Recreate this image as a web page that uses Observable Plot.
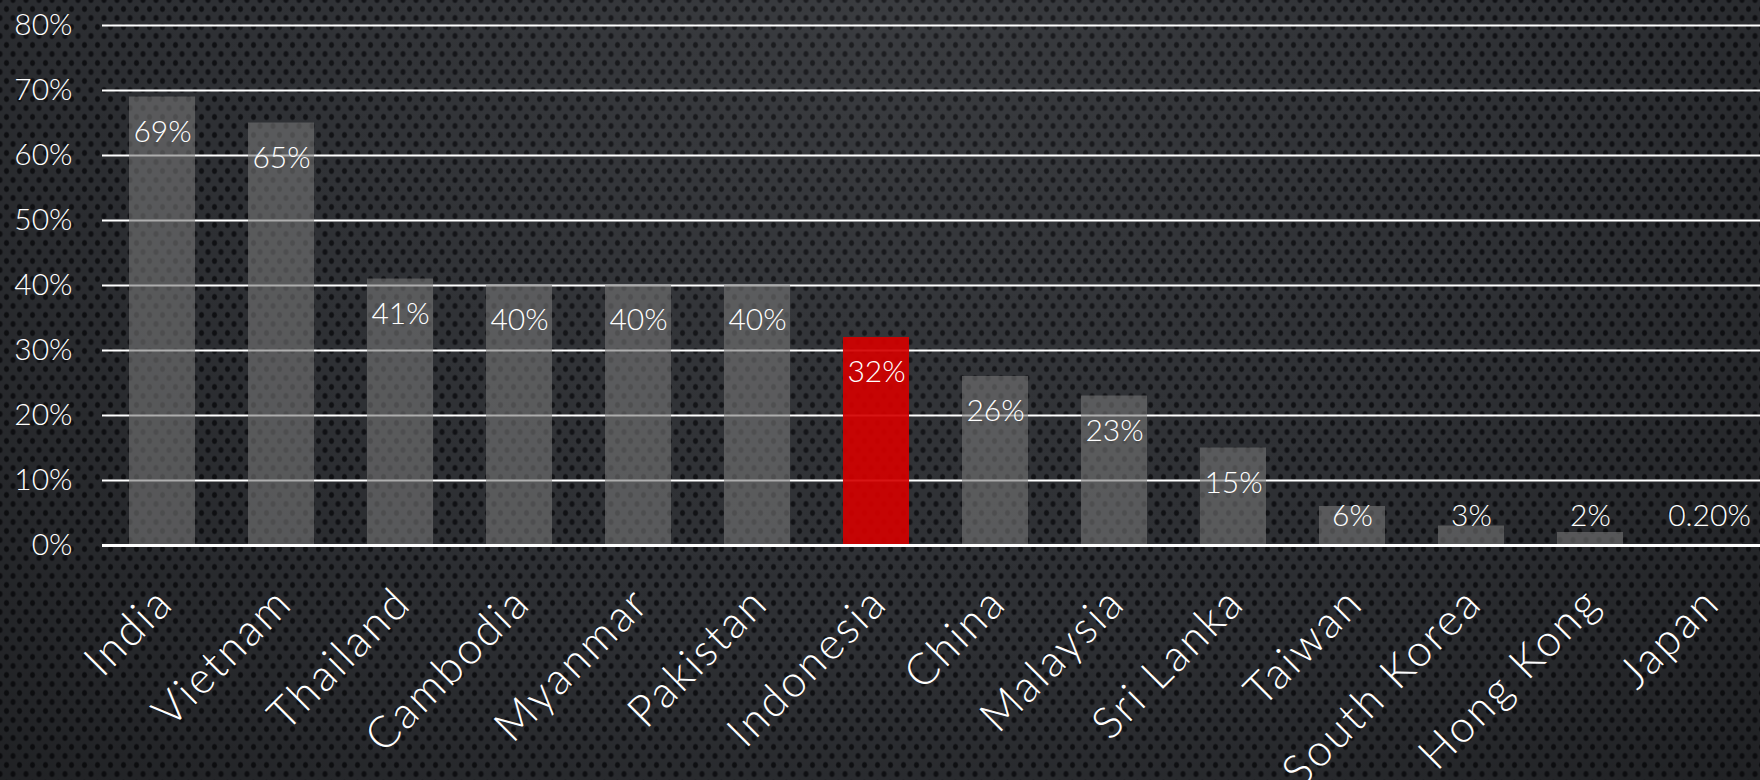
<!DOCTYPE html>
<html>
<head>
<meta charset="utf-8">
<script src="https://cdn.jsdelivr.net/npm/d3@7"></script>
<script src="https://cdn.jsdelivr.net/npm/@observablehq/plot@0.6"></script>
<style>
  html, body { margin: 0; padding: 0; width: 1760px; height: 780px; overflow: hidden; }
  body {
    background-color: #2e3034;
    background-image:
      radial-gradient(ellipse at 50% 0%, rgba(255,255,255,0.06) 0%, rgba(0,0,0,0) 55%, rgba(0,0,0,0.3) 100%),
      radial-gradient(ellipse 3.2px 3.8px at center, rgba(12,13,16,0.9) 0 55%, rgba(12,13,16,0) 100%),
      radial-gradient(ellipse 3.2px 3.8px at center, rgba(12,13,16,0.9) 0 55%, rgba(12,13,16,0) 100%);
    background-size: 100% 100%, 13px 18px, 13px 18px;
    background-position: 0 0, 0 0, 6.5px 9px;
    font-family: Lato, "DejaVu Sans", sans-serif;
  }
  #chart svg { display: block; }
  #chart svg g[aria-label="x-axis tick label"] text { letter-spacing: 2.5px; }
</style>
</head>
<body>
<div id="chart"></div>
<script>
const countries = ["India","Vietnam","Thailand","Cambodia","Myanmar","Pakistan","Indonesia","China","Malaysia","Sri Lanka","Taiwan","South Korea","Hong Kong","Japan"];
const values = [0.69,0.65,0.41,0.40,0.40,0.40,0.32,0.26,0.23,0.15,0.06,0.03,0.02,0.002];
const valueLabels = ["69%","65%","41%","40%","40%","40%","32%","26%","23%","15%","6%","3%","2%","0.20%"];
const highlight = "Indonesia";
const yTicks = [0,0.1,0.2,0.3,0.4,0.5,0.6,0.7,0.8];

const data = countries.map((c, i) => ({country: c, value: values[i], label: valueLabels[i]}));

const chart = Plot.plot({
  width: 1760,
  height: 780,
  marginLeft: 102,
  marginRight: 0,
  marginTop: 25,
  marginBottom: 235,
  style: {background: "transparent", color: "white", fontFamily: "Lato, 'DejaVu Sans', sans-serif"},
  x: {domain: countries, range: [102, 1769], paddingInner: 0.445, paddingOuter: 0.227, round: false},
  y: {domain: [0, 0.8], range: [545, 25]},
  marks: [
    Plot.ruleY(yTicks.filter(d => d > 0), {stroke: "white", strokeWidth: 2}),
    Plot.barY(data, {
      x: "country", y: "value",
      fill: d => d.country === highlight ? "#d40000" : "#777777",
      fillOpacity: d => d.country === highlight ? 0.92 : 0.6
    }),
    Plot.ruleY([0], {stroke: "white", strokeWidth: 3}),
    Plot.text(data, {
      x: "country",
      y: d => Math.max(d.value, 0.099),
      dy: 35,
      text: "label",
      fill: "white",
      fontSize: 30,
      fontWeight: 300
    }),
    Plot.axisY({
      ticks: yTicks,
      tickFormat: d => Math.round(d * 100) + "%",
      tickSize: 0,
      tickPadding: 30,
      fontSize: 30,
      fontWeight: 300,
      label: null,
      fill: "white"
    }),
    Plot.axisX({
      tickSize: 0,
      tickRotate: -45,
      tickPadding: 50,
      dx: 3,
      fontSize: 44,
      fontWeight: 300,
      label: null,
      fill: "white"
    })
  ]
});
document.getElementById("chart").appendChild(chart);
</script>
</body>
</html>
